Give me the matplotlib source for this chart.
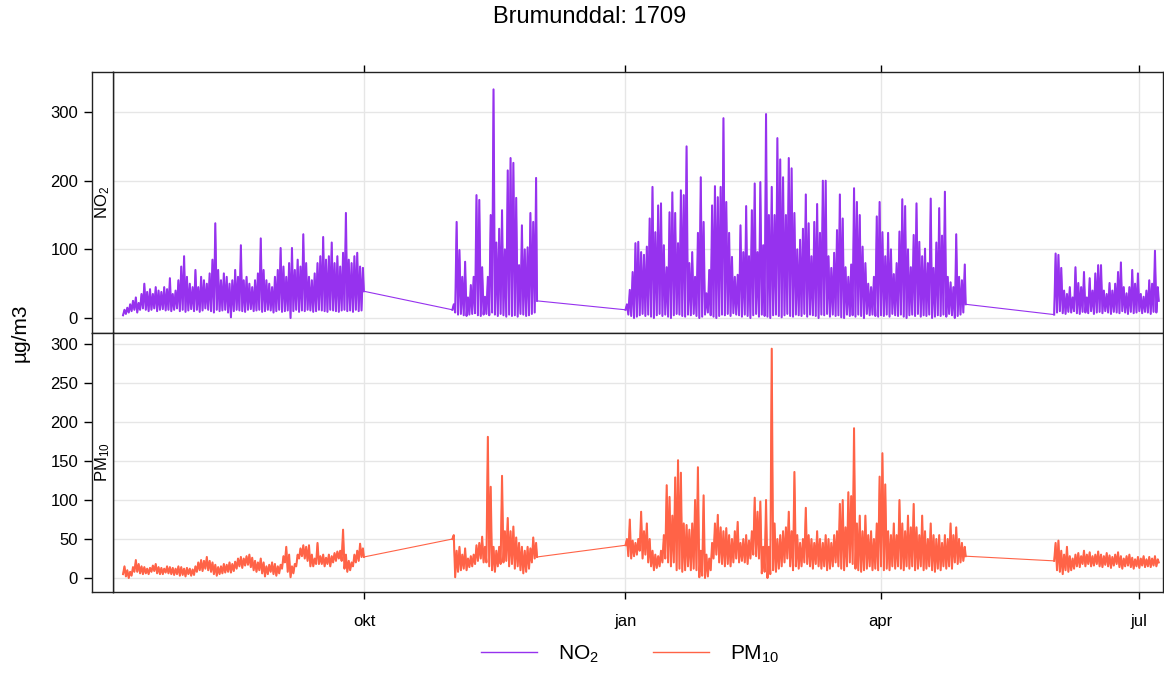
import matplotlib
matplotlib.use("Agg")
import matplotlib.pyplot as plt
import numpy as np
import pandas as pd
from matplotlib.lines import Line2D

plt.rcParams["font.family"] = ["Liberation Sans", "DejaVu Sans"]
plt.rcParams["mathtext.default"] = "regular"

# ---------------------------------------------------------------- data
title = "Brumunddal: 1709"
series_names = ["NO$_2$", "PM$_{10}$"]
y_label = "µg/m3"
month_ticks = ["2017-10-01", "2018-01-01", "2018-04-01", "2018-07-01"]
month_labels = ["okt", "jan", "apr", "jul"]

# measuring periods (first day of each block of data)
period_starts = ["2017-07-08", "2017-11-01", "2018-01-01", "2018-06-01"]

# NO2: daily minimum / daily maximum per period, and last reading of each period
no2_lo_1 = [4, 6, 8, 10, 12, 8, 12, 14, 12, 10,
            12, 14, 10, 12, 13, 11, 12, 10, 12, 14,
            10, 12, 9, 11, 13, 10, 12, 9, 11, 14,
            12, 10, 8, 12, 10, 11, 12, 8, 1, 10,
            12, 11, 10, 9, 12, 13, 10, 11, 12, 9,
            10, 12, 11, 8, 10, 12, 9, 10, 11, 0,
            10, 12, 9, 11, 10, 12, 11, 9, 10, 12,
            11, 10, 9, 12, 11, 10, 9, 11, 12, 10,
            11, 9, 12, 10, 11]
no2_hi_1 = [12, 15, 20, 25, 30, 22, 35, 50, 38, 42,
            35, 45, 40, 38, 45, 42, 58, 35, 40, 55,
            75, 90, 60, 50, 45, 70, 45, 60, 55, 50,
            65, 85, 138, 70, 55, 65, 60, 50, 55, 70,
            60, 106, 55, 60, 50, 45, 55, 65, 116, 70,
            55, 50, 45, 60, 70, 102, 75, 60, 80, 102,
            70, 85, 75, 122, 80, 60, 55, 65, 80, 90,
            118, 85, 90, 110, 80, 90, 75, 95, 153, 85,
            80, 90, 95, 75, 73]
no2_lo_2 = [12, 8, 5, 6, 4, 3, 5, 6, 7, 4,
            3, 5, 6, 4, 8, 5, 3, 6, 4, 2,
            5, 3, 4, 2, 6, 5, 3, 4, 6, 8]
no2_hi_2 = [20, 140, 99, 60, 82, 30, 48, 60, 179, 172,
            74, 31, 60, 150, 333, 110, 130, 157, 100, 215,
            233, 226, 175, 77, 135, 100, 103, 153, 140, 204]
no2_lo_3 = [12, 5, 3, 0, 2, 4, 6, 3, 5, 2,
            0, 4, 6, 3, 5, 2, 0, 4, 6, 5,
            3, 2, 5, 4, 6, 3, 0, 2, 5, 8,
            4, 2, 0, 3, 5, 4, 6, 3, 7, 5,
            4, 2, 5, 3, 0, 4, 6, 2, 5, 3,
            2, 0, 4, 5, 3, 1, 4, 6, 3, 2,
            5, 4, 3, 6, 2, 5, 4, 3, 0, 5,
            4, 6, 2, 5, 3, 4, 1, 0, 5, 3,
            4, 2, 5, 3, 0, 6, 4, 5, 3, 2,
            4, 3, 5, 2, 6, 4, 3, 5, 2, 0,
            4, 5, 3, 6, 2, 4, 3, 5, 0, 2,
            4, 3, 5, 2, 6, 4, 0, 3, 5, 8]
no2_hi_3 = [20, 41, 67, 109, 111, 96, 92, 104, 145, 191,
            125, 164, 167, 106, 74, 154, 183, 153, 109, 186,
            179, 250, 80, 96, 60, 124, 205, 140, 36, 70,
            164, 192, 176, 191, 291, 169, 124, 89, 60, 63,
            135, 96, 163, 90, 157, 196, 96, 198, 106, 297,
            150, 191, 150, 262, 231, 205, 150, 233, 218, 153,
            100, 114, 130, 180, 138, 90, 140, 166, 124, 200,
            200, 90, 73, 95, 128, 180, 145, 74, 60, 78,
            189, 169, 150, 104, 80, 50, 45, 60, 148, 169,
            125, 90, 124, 100, 64, 80, 126, 173, 163, 100,
            74, 121, 167, 111, 90, 101, 80, 174, 73, 110,
            160, 120, 184, 60, 52, 45, 122, 60, 55, 78]
no2_lo_4 = [5, 8, 10, 7, 6, 9, 8, 10, 7, 6,
            9, 8, 7, 10, 6, 8, 9, 7, 10, 8,
            6, 9, 8, 7, 10, 8, 6, 9, 7, 8,
            10, 7, 9, 8, 6, 9, 8]
no2_hi_4 = [94, 92, 73, 40, 35, 45, 30, 74, 51, 45,
            67, 30, 58, 40, 65, 77, 77, 40, 35, 51,
            40, 50, 67, 81, 45, 36, 45, 70, 50, 65,
            35, 31, 40, 55, 50, 98, 45]
no2_close = [39, 25, 20, 25]

# PM10: daily minimum / daily maximum per period, and last reading of each period
pm10_lo_1 = [5, 2, 0, 3, 8, 8, 6, 5, 6, 5,
             8, 9, 6, 5, 5, 7, 6, 5, 4, 5,
             3, 4, 2, 5, 3, 4, 8, 10, 9, 12,
             10, 8, 5, 3, 5, 6, 7, 8, 7, 9,
             12, 15, 13, 16, 17, 14, 10, 8, 10, 6,
             2, 5, 8, 5, 3, 6, 12, 20, 8, 1,
             6, 15, 25, 28, 25, 22, 15, 15, 18, 18,
             18, 15, 18, 15, 20, 22, 25, 22, 12, 8,
             10, 15, 20, 22, 27]
pm10_hi_1 = [15, 10, 8, 14, 23, 18, 15, 14, 12, 13,
             16, 18, 14, 13, 12, 15, 14, 13, 12, 15,
             14, 12, 13, 12, 11, 15, 20, 23, 22, 27,
             22, 20, 17, 14, 15, 18, 17, 20, 18, 21,
             25, 27, 25, 28, 30, 26, 22, 20, 25, 20,
             15, 17, 20, 18, 15, 17, 28, 40, 30, 15,
             18, 30, 38, 42, 40, 42, 30, 25, 45, 28,
             30, 26, 30, 28, 32, 34, 35, 62, 30, 22,
             20, 30, 35, 44, 38]
pm10_lo_2 = [50, 1, 8, 10, 12, 10, 14, 15, 18, 22,
             25, 20, 20, 15, 10, 8, 15, 18, 20, 22,
             15, 18, 12, 15, 10, 6, 8, 12, 20, 25]
pm10_hi_2 = [55, 35, 40, 30, 38, 25, 28, 30, 42, 45,
             53, 40, 181, 117, 40, 35, 40, 131, 60, 77,
             60, 66, 52, 45, 40, 35, 40, 38, 52, 45]
pm10_lo_3 = [42, 28, 25, 28, 30, 35, 25, 30, 20, 15,
             10, 13, 15, 20, 25, 20, 15, 20, 10, 12,
             8, 10, 15, 10, 12, 10, 1, 3, 0, 2,
             10, 25, 30, 20, 18, 15, 18, 15, 20, 25,
             20, 22, 20, 18, 25, 30, 28, 25, 6, 8,
             0, 5, 10, 8, 12, 15, 20, 25, 15, 10,
             15, 12, 15, 20, 18, 15, 12, 18, 15, 12,
             15, 10, 12, 15, 20, 15, 12, 10, 15, 20,
             18, 12, 10, 8, 10, 12, 15, 10, 12, 10,
             15, 10, 12, 10, 15, 12, 15, 12, 10, 15,
             12, 15, 10, 12, 15, 10, 12, 15, 10, 8,
             12, 10, 15, 12, 15, 12, 20, 18, 20, 22]
pm10_hi_3 = [50, 75, 48, 45, 50, 85, 60, 70, 50, 35,
             30, 28, 35, 55, 119, 104, 80, 129, 151, 135,
             70, 68, 62, 70, 100, 142, 35, 106, 30, 25,
             45, 70, 81, 65, 60, 64, 55, 50, 60, 72,
             45, 50, 55, 48, 60, 103, 85, 98, 40, 100,
             40, 294, 70, 50, 55, 60, 65, 85, 60, 136,
             55, 45, 50, 90, 55, 50, 45, 60, 50, 45,
             55, 50, 45, 55, 60, 95, 100, 65, 110, 105,
             192, 70, 80, 60, 80, 55, 60, 50, 70, 130,
             160, 120, 60, 55, 70, 55, 100, 70, 60, 80,
             65, 95, 65, 55, 80, 60, 50, 70, 55, 50,
             55, 45, 55, 50, 70, 55, 65, 50, 45, 40]
pm10_lo_4 = [22, 10, 8, 5, 10, 8, 10, 12, 15, 14,
             18, 15, 18, 15, 16, 18, 15, 14, 17, 15,
             13, 16, 18, 14, 12, 15, 16, 14, 12, 15,
             13, 16, 14, 15, 14, 16, 15]
pm10_hi_4 = [45, 48, 35, 30, 40, 28, 25, 30, 32, 28,
             35, 30, 33, 28, 30, 34, 30, 28, 32, 29,
             27, 30, 33, 28, 25, 28, 30, 26, 24, 27,
             25, 28, 24, 27, 25, 28, 24]
pm10_close = [27, 27, 28, 20]

colors = ["#9632ee", "#ff6347"]


def build(starts, lows, highs, closes):
    """Per period: morning minimum, afternoon maximum each day, then last reading."""
    blocks = []
    for start, lo, hi, close in zip(starts, lows, highs, closes):
        t0 = pd.Timestamp(start)
        times, vals = [], []
        for d, (a, b) in enumerate(zip(lo, hi)):
            day = t0 + pd.Timedelta(days=d)
            times += [day + pd.Timedelta(hours=3), day + pd.Timedelta(hours=15)]
            vals += [a, b]
        times.append(t0 + pd.Timedelta(days=len(hi)) - pd.Timedelta(hours=1))
        vals.append(close)
        blocks.append((pd.DatetimeIndex(times), np.array(vals, dtype=float)))
    return blocks


no2_blocks = build(period_starts,
                   [no2_lo_1, no2_lo_2, no2_lo_3, no2_lo_4],
                   [no2_hi_1, no2_hi_2, no2_hi_3, no2_hi_4], no2_close)
pm_blocks = build(period_starts,
                  [pm10_lo_1, pm10_lo_2, pm10_lo_3, pm10_lo_4],
                  [pm10_hi_1, pm10_hi_2, pm10_hi_3, pm10_hi_4], pm10_close)

# ---------------------------------------------------------------- layout
W, H = 1164, 675
fig = plt.figure(figsize=(W / 100, H / 100), dpi=100)

px = lambda v: v / W
py = lambda v: 1 - v / H

left, right = px(113), px(1163)
strip_l, strip_w = px(92), px(113) - px(92)
panels = [(py(333), py(72)), (py(592), py(333))]

xlim = (pd.Timestamp("2017-07-04 14:00"), pd.Timestamp("2018-07-09 11:00"))
ylims = [(-21.8, 358.3), (-17.9, 314.1)]
yticks = [[0, 100, 200, 300], [0, 50, 100, 150, 200, 250, 300]]
data = [no2_blocks, pm_blocks]
grid_c = "#e6e6e6"

for k, ((b, t), blocks) in enumerate(zip(panels, data)):
    ax = fig.add_axes([left, b, right - left, t - b])
    st = fig.add_axes([strip_l, b, strip_w, t - b], sharey=ax)

    # whole record as one line (joins the gaps between periods) ...
    all_t = pd.DatetimeIndex(np.concatenate([bt.values for bt, _ in blocks]))
    all_v = np.concatenate([bv for _, bv in blocks])
    ax.plot(all_t, all_v, color=colors[k], lw=0.8)
    # ... with the dense measuring periods drawn a touch heavier
    for bt, bv in blocks:
        ax.plot(bt, bv, color=colors[k], lw=1.45, solid_joinstyle="round")

    ax.set_xlim(*xlim)
    ax.set_ylim(*ylims[k])
    ax.set_yticks(yticks[k])
    ax.set_xticks(pd.to_datetime(month_ticks))
    ax.set_axisbelow(True)
    ax.grid(True, color=grid_c, lw=1)
    ax.tick_params(axis="y", left=False, labelleft=False)
    if k == 0:
        ax.tick_params(axis="x", bottom=False, labelbottom=False, top=True,
                       labeltop=False, direction="out", length=5, width=1)
    else:
        ax.set_xticklabels(month_labels)
        ax.tick_params(axis="x", bottom=True, labelbottom=True, top=False,
                       direction="out", length=5, width=1, labelsize=12, pad=11)
    for s in ax.spines.values():
        s.set_linewidth(1)
        s.set_color("#222222")

    st.set_xticks([])
    st.tick_params(axis="y", left=True, labelleft=True, direction="out",
                   length=6, width=1, labelsize=12, pad=4)
    for s in st.spines.values():
        s.set_linewidth(1)
        s.set_color("#222222")
    st.text(0.5, 0.5, series_names[k], rotation=90, transform=st.transAxes,
            ha="center", va="center", fontsize=12)

fig.text(px(590), py(17), title, ha="center", va="center", fontsize=17)
fig.text(px(20), py(333), y_label, rotation=90, ha="center", va="center",
         fontsize=15)

handles = [Line2D([], [], color=c, lw=1) for c in colors]
fig.legend(handles, series_names, loc="center", bbox_to_anchor=(px(630), py(654)),
           ncol=2, frameon=False, fontsize=15, handlelength=2.7,
           handletextpad=1.0, columnspacing=2.6)

fig.savefig("out.png", dpi=100)
